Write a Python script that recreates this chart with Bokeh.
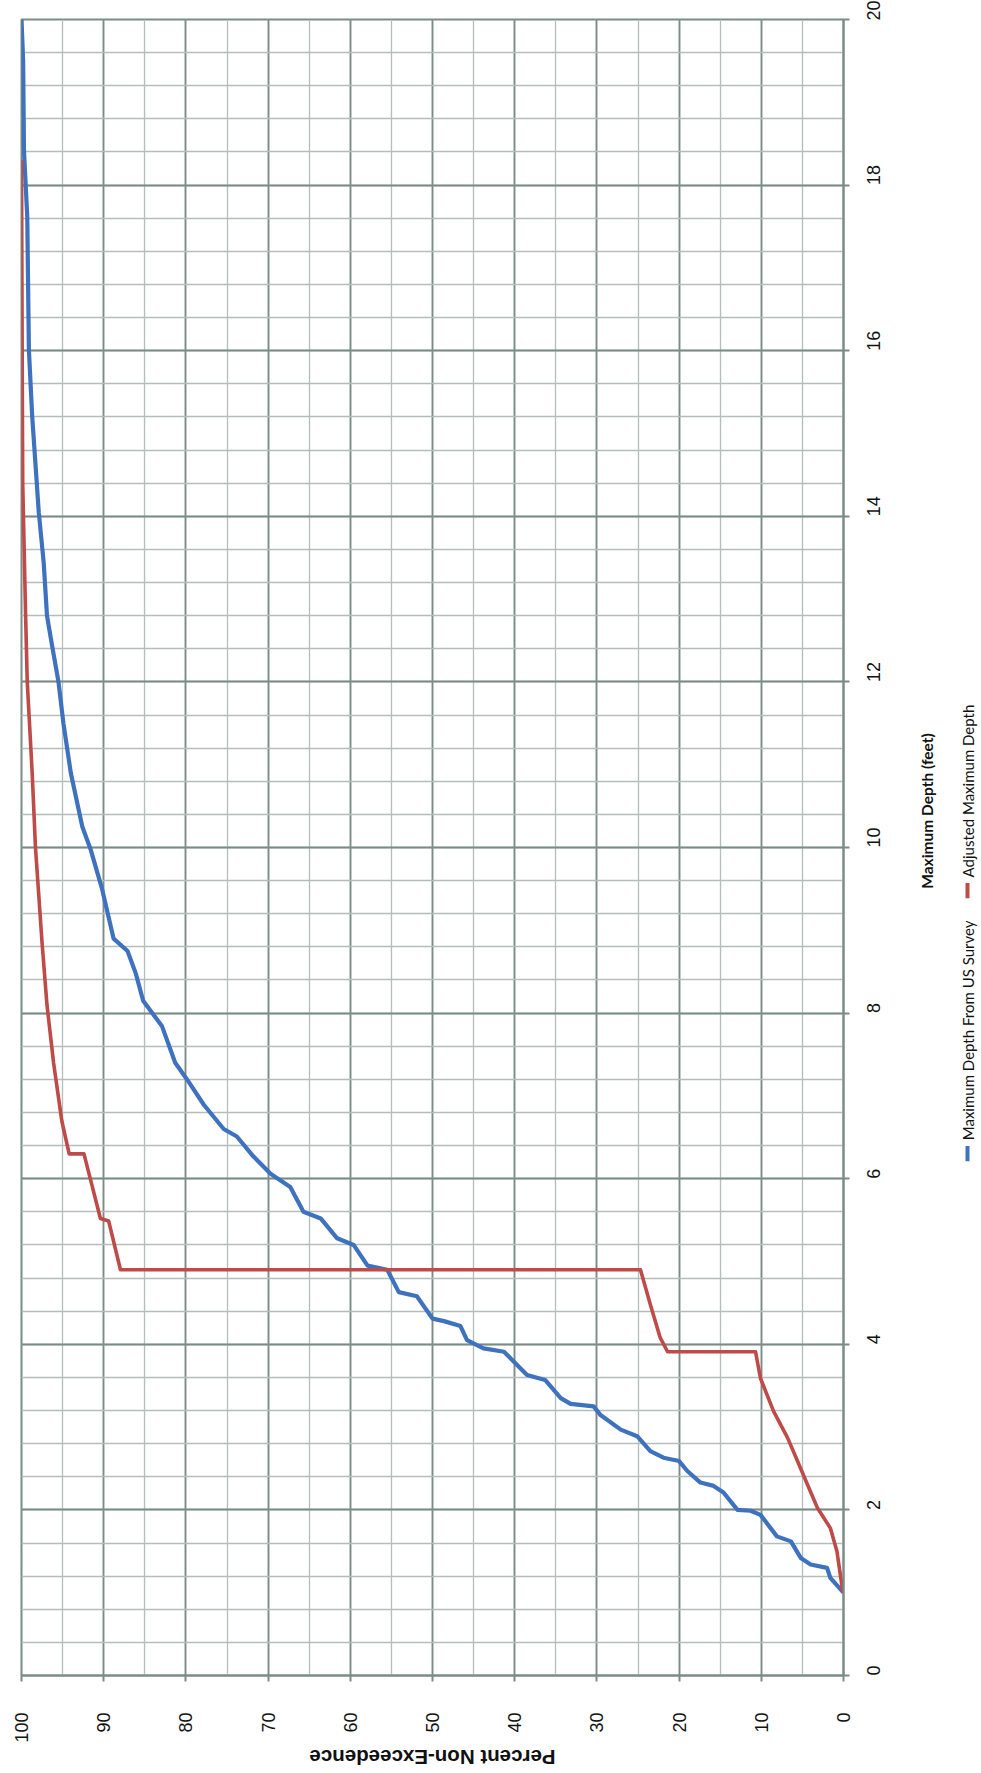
import math
from bokeh.plotting import figure
from bokeh.models import Range1d, SingleIntervalTicker
from bokeh.layouts import row, column
from bokeh.embed import file_html
from bokeh.resources import INLINE
from bokeh.core.properties import value

# ---------------- data ----------------
survey_pct = [0.0, 1.6, 2.0, 4.0, 5.2, 6.4, 8.1, 10.1, 11.3, 12.9, 14.6, 15.8, 17.4, 19.0, 20.0,
              21.9, 23.5, 25.1, 27.1, 29.6, 30.4, 33.2, 34.4, 36.3, 38.5, 40.1, 41.3, 43.8, 45.8,
              46.6, 48.6, 50.0, 51.9, 54.1, 55.5, 57.9, 59.6, 61.6, 63.6, 65.7, 67.3, 69.7, 71.8,
              73.8, 75.4, 77.8, 79.8, 81.3, 82.9, 85.2, 86.1, 87.1, 88.8, 90.2, 91.6, 92.6, 94.0,
              94.9, 95.5, 96.3, 96.9, 97.3, 97.9, 98.7, 99.1, 99.3, 99.7, 99.8, 100.0]
survey_depth = [1.0, 1.18, 1.30, 1.34, 1.42, 1.62, 1.68, 1.94, 1.99, 2.0, 2.21, 2.29, 2.33, 2.47, 2.59,
                2.63, 2.71, 2.89, 2.97, 3.15, 3.25, 3.28, 3.35, 3.57, 3.63, 3.79, 3.91, 3.95, 4.05,
                4.22, 4.28, 4.31, 4.58, 4.63, 4.90, 4.95, 5.20, 5.28, 5.52, 5.60, 5.90, 6.06, 6.27,
                6.51, 6.60, 6.89, 7.19, 7.40, 7.84, 8.15, 8.48, 8.75, 8.90, 9.50, 9.98, 10.25, 10.9,
                11.5, 12.0, 12.45, 12.8, 13.44, 14.05, 15.21, 16.01, 17.62, 18.42, 19.5, 20.0]

adjusted_pct = [0.0, 0.1, 0.8, 1.6, 3.2, 4.4, 5.6, 6.8, 8.5, 10.1, 10.7, 21.4, 22.3, 23.5, 24.7,
                87.96, 89.4, 90.4, 92.4, 94.2, 95.1, 96.1, 96.9, 97.5, 98.3, 98.7, 99.3, 99.5,
                99.85, 99.9, 100.0]
adjusted_depth = [1.0, 1.02, 1.5, 1.78, 2.03, 2.31, 2.59, 2.87, 3.19, 3.59, 3.91, 3.91, 4.08, 4.48, 4.9,
                  4.9, 5.49, 5.52, 6.3, 6.3, 6.7, 7.4, 8.1, 8.85, 10.0, 10.9, 12.0, 12.8,
                  14.4, 15.5, 18.3]

series_names = ["Maximum Depth From US Survey", "Adjusted Maximum Depth"]
series_colors = ["#3F72BE", "#BE4B48"]
x_title = "Percent Non-Exceedence"
y_title = "Maximum Depth (feet)"

MAJOR = "#7B8B86"
MINOR = "#B3BEBA"
H = 1745          # main figure height (page y 0..1745)
W = 905           # main figure width (page x 0..905)
SW = 981 - W      # side strip (axis title + legend)
BH = 25           # bottom strip (x axis title)

p = figure(width=W, height=H, x_range=Range1d(100, 0), y_range=Range1d(0, 20),
           y_axis_location="right", output_backend="svg", toolbar_location=None,
           min_border_left=21, min_border_top=19, min_border_right=62, min_border_bottom=68)
p.background_fill_color = "white"
p.border_fill_color = "white"
p.outline_line_color = MAJOR
p.outline_line_width = 2

xt = SingleIntervalTicker(interval=10, num_minor_ticks=2)
yt = SingleIntervalTicker(interval=2, num_minor_ticks=5)
p.xaxis.ticker = xt
p.yaxis.ticker = yt
p.xgrid.ticker = xt
p.ygrid.ticker = yt

for g in (p.xgrid, p.ygrid):
    g.grid_line_color = MAJOR
    g.grid_line_width = 1.8
    g.minor_grid_line_color = MINOR
    g.minor_grid_line_width = 1.3

for ax in (p.xaxis, p.yaxis):
    ax.axis_line_color = MAJOR
    ax.axis_line_width = 2
    ax.major_tick_line_color = MAJOR
    ax.major_tick_line_width = 2
    ax.major_tick_in = 0
    ax.major_tick_out = 6
    ax.minor_tick_in = 0
    ax.minor_tick_out = 0
    ax.major_label_text_font = "Liberation Sans"
    ax.major_label_text_font_size = "18px"
    ax.major_label_text_color = "#111111"
    ax.major_label_orientation = math.pi / 2

p.xaxis.major_label_standoff = 31
p.yaxis.major_label_standoff = 24

p.line(survey_pct, survey_depth, line_color=series_colors[0], line_width=4.2, line_join="round")
p.line(adjusted_pct, adjusted_depth, line_color=series_colors[1], line_width=3.6, line_join="round")


def strip(w, h):
    f = figure(width=w, height=h, x_range=Range1d(0, w), y_range=Range1d(0, h),
               output_backend="svg", toolbar_location=None,
               min_border=0, min_border_left=0, min_border_right=0,
               min_border_top=0, min_border_bottom=0)
    f.axis.visible = False
    f.xgrid.visible = False
    f.ygrid.visible = False
    f.outline_line_color = None
    f.background_fill_color = "white"
    f.border_fill_color = "white"
    return f


# ---------------- side strip: y-axis title + legend (rotated) ----------------
sd = strip(SW, H)


def py(page_y):
    return H - page_y


sd.text([926 - W], [py(834)], text=[y_title], angle=math.pi / 2,
        text_align="center", text_baseline="middle", text_font=value("Lato"),
        text_font_style="bold", text_font_size="15.5px", text_color="#111111")

lx = 967 - W
sd.line([lx, lx], [py(1203), py(1187)], line_color=series_colors[0], line_width=4)
sd.text([lx], [py(1181)], text=[series_names[0]], angle=math.pi / 2,
        text_align="left", text_baseline="middle", text_font=value("Lato"),
        text_font_size="15px", text_color="#111111")
sd.line([lx, lx], [py(926), py(910)], line_color=series_colors[1], line_width=4)
sd.text([lx], [py(904)], text=[series_names[1]], angle=math.pi / 2,
        text_align="left", text_baseline="middle", text_font=value("Lato"),
        text_font_size="15px", text_color="#111111")

# ---------------- bottom strip: x-axis title (upside down) ----------------
bt = strip(981, BH)
bt.text([432], [BH - (1757 - H)], text=[x_title], angle=math.pi,
        text_align="center", text_baseline="middle", text_font=value("Liberation Sans"),
        text_font_style="bold", text_font_size="20.5px", text_color="#111111")

layout = column(row(p, sd), bt)
open("out.html", "w").write(file_html(layout, INLINE))
